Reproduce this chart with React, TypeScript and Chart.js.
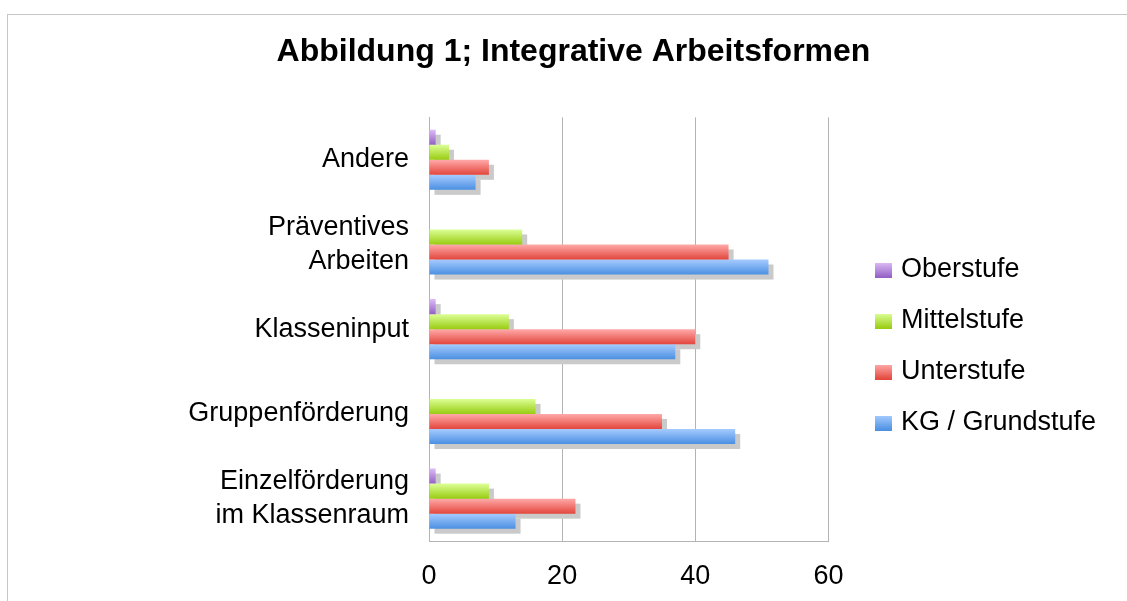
import React, { useEffect, useRef } from 'react';
import { Chart, registerables } from 'chart.js';

Chart.register(...registerables);

// ---- data ----
const titleText = 'Abbildung 1; Integrative Arbeitsformen';
const categories: (string | string[])[] = [
  'Andere',
  ['Präventives', 'Arbeiten'],
  'Klasseninput',
  'Gruppenförderung',
  ['Einzelförderung', 'im Klassenraum'],
];
const seriesNames = ['Oberstufe', 'Mittelstufe', 'Unterstufe', 'KG / Grundstufe'];
const oberstufe = [1, 0, 1, 0, 1];
const mittelstufe = [3, 14, 12, 16, 9];
const unterstufe = [9, 45, 40, 35, 22];
const grundstufe = [7, 51, 37, 46, 13];
const xMin = 0;
const xMax = 60;
const xStep = 20;

// ---- styles ----
const colorsTop = ['#dcbcf6', '#dcff96', '#ffaaaa', '#a6cbff'];
const colorsBottom = ['#9460c4', '#99cc11', '#e3463c', '#4b8fe2'];
const SHADOW = '#cacaca';
const SHADOW_OFF = 5;
const FONT = 'Liberation Sans, Arial, Helvetica, sans-serif';
const GRID = '#b3b3b3';
const LABEL_SIZE = 27;

const CANVAS_W = 1098;
const CANVAS_H = 663;

function gradientFill(i: number) {
  return (c: any) => {
    const el = c.element;
    if (!el || typeof el.y !== 'number' || !el.height || isNaN(el.y)) return colorsBottom[i];
    const g = c.chart.ctx.createLinearGradient(0, el.y - el.height / 2, 0, el.y + el.height / 2);
    g.addColorStop(0, colorsTop[i]);
    g.addColorStop(1, colorsBottom[i]);
    return g;
  };
}

function makeLegendImage(i: number) {
  const c = document.createElement('canvas');
  c.width = 17;
  c.height = 15;
  const x = c.getContext('2d')!;
  const g = x.createLinearGradient(0, 0, 0, 15);
  g.addColorStop(0, colorsTop[i]);
  g.addColorStop(1, colorsBottom[i]);
  x.fillStyle = g;
  x.fillRect(0, 0, 17, 15);
  return c;
}

const shadowPlugin = {
  id: 'barShadow',
  beforeDatasetsDraw(chart: any) {
    const ctx = chart.ctx;
    ctx.save();
    ctx.fillStyle = SHADOW;
    chart.getSortedVisibleDatasetMetas().forEach((meta: any) => {
      meta.data.forEach((el: any) => {
        const { x, y, base, height } = el.getProps(['x', 'y', 'base', 'height'], true);
        const w = Math.abs(x - base);
        if (!(w > 0)) return;
        ctx.fillRect(Math.min(x, base) + SHADOW_OFF, y - height / 2 + SHADOW_OFF, w, height);
      });
    });
    ctx.restore();
  },
};

export default function App() {
  const ref = useRef<HTMLCanvasElement | null>(null);

  useEffect(() => {
    const canvas = ref.current!;
    const legendImages = seriesNames.map((_, i) => makeLegendImage(i));
    const values = [oberstufe, mittelstufe, unterstufe, grundstufe];
    const chart = new Chart(canvas, {
      type: 'bar',
      data: {
        labels: categories as any,
        datasets: seriesNames.map((name, i) => ({
          label: name,
          data: values[i],
          backgroundColor: gradientFill(i),
          borderWidth: 0,
          barPercentage: 1,
          categoryPercentage: 0.71,
        })),
      },
      options: {
        indexAxis: 'y',
        responsive: false,
        devicePixelRatio: 1,
        animation: false,
        layout: { padding: { left: 33, right: 0, top: 0, bottom: 0 } },
        font: { family: FONT },
        scales: {
          x: {
            type: 'linear',
            min: xMin,
            max: xMax,
            ticks: {
              stepSize: xStep,
              color: '#000',
              font: { family: FONT, size: LABEL_SIZE },
              padding: 19,
            },
            grid: { color: GRID, drawTicks: false, lineWidth: 1 },
            border: { color: GRID },
            afterFit: (s: any) => {
              s.height = 137;
            },
          },
          y: {
            type: 'category',
            ticks: {
              color: '#000',
              font: { family: FONT, size: LABEL_SIZE, lineHeight: 1.24 },
              padding: 20,
            },
            grid: { display: false, drawTicks: false },
            border: { color: GRID },
            afterFit: (s: any) => {
              s.width = 388;
            },
          },
          gap: {
            type: 'linear',
            position: 'right',
            display: false,
            afterFit: (s: any) => {
              s.width = 28;
            },
          },
        } as any,
        plugins: {
          title: {
            display: true,
            text: titleText,
            color: '#000',
            font: { family: FONT, size: 32, weight: 'bold' },
            padding: { top: 18, bottom: 46 },
          },
          legend: {
            display: true,
            position: 'right',
            align: 'center',
            labels: {
              color: '#000',
              font: { family: FONT, size: LABEL_SIZE },
              padding: 24,
              usePointStyle: true,
              boxWidth: 7,
              generateLabels: (ch: any) => {
                const items = (Chart.defaults.plugins.legend.labels as any).generateLabels(ch);
                return items.map((it: any, i: number) => ({
                  ...it,
                  pointStyle: legendImages[i],
                  fillStyle: colorsBottom[i],
                  strokeStyle: 'rgba(0,0,0,0)',
                  lineWidth: 0,
                }));
              },
            },
          },
          tooltip: { enabled: false },
        },
      } as any,
      plugins: [shadowPlugin],
    });
    chart.update();
    return () => chart.destroy();
  }, []);

  return (
    <div style={{ position: 'fixed', inset: 0, overflow: 'hidden', background: '#fff' }}>
      <div
        style={{
          position: 'absolute',
          left: 7,
          top: 14,
          width: 1300,
          height: 800,
          border: '1px solid #c6c6c6',
          boxSizing: 'border-box',
        }}
      >
        <canvas
          ref={ref}
          width={CANVAS_W}
          height={CANVAS_H}
          style={{ position: 'absolute', left: 0, top: 0, width: CANVAS_W, height: CANVAS_H }}
        />
      </div>
    </div>
  );
}
